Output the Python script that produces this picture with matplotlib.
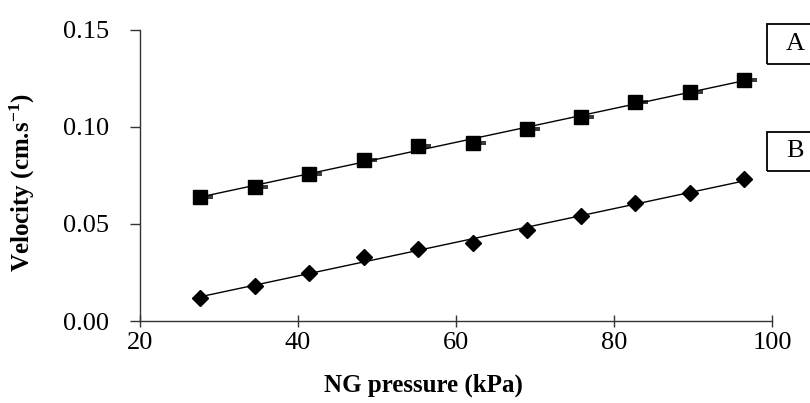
import numpy as np
import matplotlib
matplotlib.use("Agg")
import matplotlib.pyplot as plt
from matplotlib.path import Path
from matplotlib.patches import Rectangle

# Data
pressure_kpa = [27.6, 34.5, 41.4, 48.3, 55.2, 62.1, 69.0, 75.8, 82.7, 89.6, 96.5]
velocity_A = [0.064, 0.069, 0.076, 0.083, 0.090, 0.092, 0.099, 0.105, 0.113, 0.118, 0.124]
velocity_B = [0.012, 0.018, 0.025, 0.033, 0.037, 0.040, 0.047, 0.054, 0.061, 0.066, 0.073]
series_labels = ["A", "B"]
x_ticks = [20, 40, 60, 80, 100]
y_ticks = [0.00, 0.05, 0.10, 0.15]

plt.rcParams['font.family'] = ['Liberation Serif', 'DejaVu Serif']
plt.rcParams['mathtext.fontset'] = 'custom'
plt.rcParams['mathtext.rm'] = 'Liberation Serif'
plt.rcParams['mathtext.bf'] = 'Liberation Serif:bold'
plt.rcParams['mathtext.it'] = 'Liberation Serif:italic'

fig = plt.figure(figsize=(8.10, 4.03), dpi=100)
W, H = 810, 403
ax = fig.add_axes([140 / W, 1 - 321 / H, (772 - 140) / W, (321 - 30) / H])

x = np.array(pressure_kpa)
for yv, mk, ms in [(velocity_A, 's', 10.5), (velocity_B, 'D', 7.8)]:
    yv = np.array(yv)
    k, b = np.polyfit(x, yv, 1)
    ax.plot([x[0], x[-1]], [k * x[0] + b, k * x[-1] + b], color='black', lw=1.0, zorder=2)
    ax.plot(x, yv, linestyle='none', marker=mk, ms=ms, color='black', zorder=3)

# small dash marks to the right of squares
dash = Path([(-1, -1), (0.4, -0.08), (0.85, -0.08), (0.4, 0.08), (0.85, 0.08), (1, 1)],
            [Path.MOVETO, Path.MOVETO, Path.LINETO, Path.MOVETO, Path.LINETO, Path.MOVETO])
ax.plot(x, velocity_A, linestyle='none', marker=dash, ms=22, mew=1.1,
        mec='black', mfc='none', zorder=3)

ax.set_xlim(20, 100)
ax.set_ylim(0, 0.15)
ax.set_xticks(x_ticks)
ax.set_xticklabels([str(t) for t in x_ticks])
ax.set_yticks(y_ticks)
ax.set_yticklabels([f"{t:.2f}" for t in y_ticks])

for s in ['top', 'right']:
    ax.spines[s].set_visible(False)
for s in ['left', 'bottom']:
    ax.spines[s].set_linewidth(1.0)
    ax.spines[s].set_color('#333333')

ax.tick_params(axis='y', direction='out', length=7, width=1.0, color='#333333',
               pad=15, labelsize=19)
ax.tick_params(axis='x', direction='inout', length=8, width=1.0, color='#333333',
               pad=4, labelsize=19)

ax.set_xlabel("NG pressure (kPa)", fontsize=18, fontweight='bold')
ax.set_ylabel("Velocity (cm.s$^{\\mathbf{-1}}$)", fontsize=18, fontweight='bold',
              va='center')
ax.xaxis.set_label_coords((423 - 140) / 632, -0.18)
ax.yaxis.set_label_coords((22 - 140) / 632, (321 - 183) / 291)

# boxed series labels
for lab, top, bot in [(series_labels[0], 24, 64), (series_labels[1], 132, 171)]:
    fig.patches.append(Rectangle((767 / W, 1 - bot / H), 60 / W, (bot - top) / H,
                                 transform=fig.transFigure, fill=False,
                                 edgecolor='black', lw=1.3))
    fig.text(795 / W, 1 - (top + bot) / 2 / H, lab, ha='center', va='center', fontsize=19)

fig.savefig("out.png", dpi=100)
